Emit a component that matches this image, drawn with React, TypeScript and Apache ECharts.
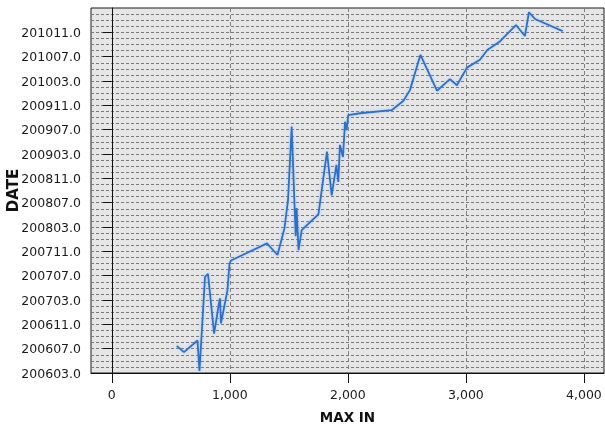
import React, { useEffect, useRef } from "react";
import * as echarts from "echarts";

// MAX IN values (x), sorted as plotted
const maxIn = [
  550, 612, 726, 743, 790, 815, 867, 908, 917, 925, 980, 997, 1010, 1315, 1404,
  1463, 1493, 1524, 1558, 1566, 1582, 1609, 1751, 1823, 1863, 1903, 1919, 1933,
  1959, 1976, 1990, 2003, 2103, 2371, 2469, 2526, 2615, 2755, 2865, 2924, 3009,
  3119, 3181, 3288, 3424, 3500, 3534, 3585, 3820,
];
// DATE as months elapsed since 2006-03
const dateMonths = [
  4.45, 3.43, 5.35, 0.33, 15.8, 16.3, 6.46, 11.45, 12.27, 8.15, 13.6, 17.9, 18.5,
  21.3, 19.4, 23.8, 28.4, 40.5, 22.5, 27.1, 20.2, 23.5, 26.1, 36.4, 29.2, 34.2,
  31.4, 37.5, 35.5, 41.3, 39.9, 42.4, 42.7, 43.2, 44.7, 46.5, 52.3, 46.4, 48.3,
  47.3, 50.2, 51.5, 53.1, 54.5, 57.2, 55.4, 59.3, 58.2, 56.2,
];
const dateTickLabels = [
  "200603.0", "200607.0", "200611.0", "200703.0", "200707.0", "200711.0",
  "200803.0", "200807.0", "200811.0", "200903.0", "200907.0", "200911.0",
  "201003.0", "201007.0", "201011.0",
];
const xTicks = [0, 1000, 2000, 3000, 4000];

export default function App() {
  const ref = useRef<HTMLDivElement>(null);
  useEffect(() => {
    if (!ref.current) return;
    const chart = echarts.init(ref.current, null, { renderer: "svg" });
    const font = "DejaVu Sans";
    const gridDash = { type: [3, 2] as any, color: "#7a7a7a", width: 1 };
    chart.setOption({
      animation: false,
      textStyle: { fontFamily: font },
      grid: {
        left: 91,
        top: 8,
        right: 1,
        bottom: 53,
        outerBoundsMode: "none",
        containLabel: false,
        show: true,
        backgroundColor: "#e6e6e6",
        borderColor: "#1a1a1a",
        borderWidth: 1,
      },
      xAxis: {
        type: "value",
        min: -176,
        max: 4170,
        name: "MAX IN",
        nameLocation: "middle",
        nameGap: 37,
        nameMoveOverlap: false,
        nameTextStyle: { fontFamily: font, fontWeight: "bold", fontSize: 13.5, color: "#111" },
        axisLine: { show: true, lineStyle: { color: "#111", width: 1 } },
        axisTick: { show: true, length: 10, customValues: xTicks, lineStyle: { color: "#111" } },
        axisLabel: {
          customValues: xTicks,
          margin: 15,
          fontSize: 12.5,
          color: "#1a1a1a",
          fontFamily: font,
          formatter: (v: number) => v.toLocaleString("en-US"),
        },
        splitLine: { show: true, lineStyle: { type: [4, 3] as any, color: "#808080", width: 1 } },
      },
      yAxis: {
        type: "value",
        min: 0,
        max: 60,
        interval: 4,
        name: "DATE",
        nameLocation: "middle",
        nameGap: 71,
        nameMoveOverlap: false,
        nameTextStyle: { fontFamily: font, fontWeight: "bold", fontSize: 15, color: "#111" },
        axisLine: { show: true, lineStyle: { color: "#111", width: 1 } },
        axisTick: {
          show: true,
          length: 9,
          customValues: dateTickLabels.map((_, i) => i * 4),
          lineStyle: { color: "#111" },
        },
        axisLabel: {
          customValues: dateTickLabels.map((_, i) => i * 4),
          margin: 10,
          fontSize: 12.5,
          color: "#1a1a1a",
          fontFamily: font,
          formatter: (v: number) => dateTickLabels[Math.round(v / 4)] ?? "",
        },
        splitLine: { show: true, lineStyle: gridDash },
        minorTick: { show: false, splitNumber: 4 },
        minorSplitLine: { show: true, lineStyle: gridDash },
      },
      series: [
        {
          type: "line",
          data: maxIn.map((x, i) => [x, dateMonths[i]]),
          showSymbol: false,
          symbol: "none",
          lineStyle: {
            color: "#2d6fc8",
            width: 1.8,
            shadowColor: "rgba(120,180,255,0.6)",
            shadowBlur: 3,
          },
        },
      ],
    });
    return () => chart.dispose();
  }, []);
  return (
    <div
      ref={ref}
      style={{ position: "fixed", left: 0, top: 0, width: 605, height: 426 }}
    />
  );
}
